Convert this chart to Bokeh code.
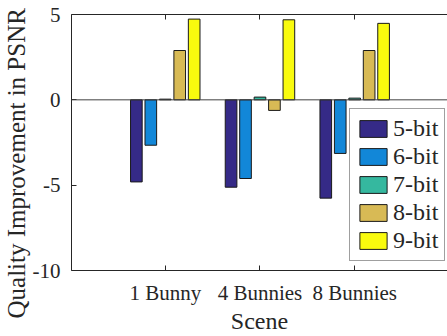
from bokeh.plotting import figure
from bokeh.models import Range1d, FixedTicker, LinearAxis, Span, ColumnDataSource, Legend, LegendItem, Title
from bokeh.embed import file_html
from bokeh.resources import INLINE

groups = [1, 2, 3]
scenes = ["1 Bunny", "4 Bunnies", "8 Bunnies"]
series = ["5-bit", "6-bit", "7-bit", "8-bit", "9-bit"]
v5 = [-4.81, -5.12, -5.76]
v6 = [-2.66, -4.61, -3.14]
v7 = [0.04, 0.16, 0.10]
v8 = [2.89, -0.62, 2.89]
v9 = [4.73, 4.69, 4.48]
values = [v5, v6, v7, v8, v9]
colors = ["#352A87", "#1287D8", "#35B89F", "#D8BA55", "#F9FB0E"]
y_ticks = [-10, -5, 0, 5]
y_tick_labels = ["-10", "-5", "0", "5"]
y_label = "Quality Improvement in PSNR"
x_label = "Scene"

FONT = "'Liberation Serif', serif"
AX = "#262626"

p = figure(width=447, height=336, output_backend="svg", toolbar_location=None,
           x_range=Range1d(0.01, 3.98), y_range=Range1d(-10, 5),
           min_border_left=70, min_border_right=0, min_border_top=14, min_border_bottom=64)
p.outline_line_color = None
p.xgrid.visible = False
p.ygrid.visible = False
p.background_fill_color = "white"
p.border_fill_color = "white"

# bottom axis
xa = p.xaxis[0]
xa.ticker = FixedTicker(ticks=groups)
xa.major_label_overrides = {g: s for g, s in zip(groups, scenes)}
xa.major_tick_in = 5
xa.major_tick_out = 0
xa.minor_tick_line_color = None
xa.axis_line_color = AX
xa.major_tick_line_color = AX
xa.major_label_text_font = FONT
xa.major_label_text_font_size = "21px"
xa.major_label_text_color = AX
xa.major_label_standoff = 10
xa.axis_label = x_label
xa.axis_label_text_font = FONT
xa.axis_label_text_font_size = "24px"
xa.axis_label_text_font_style = "normal"
xa.axis_label_text_color = AX
xa.axis_label_standoff = 0

# left axis
ya = p.yaxis[0]
ya.ticker = FixedTicker(ticks=y_ticks)
ya.major_label_overrides = {t: s for t, s in zip(y_ticks, y_tick_labels)}
ya.major_tick_in = 5
ya.major_tick_out = 0
ya.minor_tick_line_color = None
ya.axis_line_color = AX
ya.major_tick_line_color = AX
ya.major_label_text_font = FONT
ya.major_label_text_font_size = "21px"
ya.major_label_text_color = AX
ya.major_label_standoff = 11

# y label as a side title so it can be shifted along the axis
yt = Title(text=y_label, align="left", offset=-48, standoff=0,
           text_font=FONT, text_font_size="25px", text_font_style="normal",
           text_color=AX)
p.add_layout(yt, "left")

# top axis (box)
ta = LinearAxis(ticker=FixedTicker(ticks=groups))
ta.major_label_overrides = {g: "" for g in groups}
ta.major_label_standoff = 0
ta.major_tick_in = 5
ta.major_tick_out = 0
ta.minor_tick_line_color = None
ta.axis_line_color = AX
ta.major_tick_line_color = AX
p.add_layout(ta, "above")

# baseline
p.add_layout(Span(location=0, dimension="width", line_color="#404040", line_width=1))

step = 0.1526
bw = 0.123
items = []
for i, (name, vals, col) in enumerate(zip(series, values, colors)):
    off = (i - 2) * step
    src = ColumnDataSource(dict(x=[g + off for g in groups], top=vals))
    r = p.vbar(x="x", top="top", bottom=0, width=bw, source=src,
               fill_color=col, line_color="#1a1a1a", line_width=1)
    items.append(LegendItem(label=name, renderers=[r]))

leg = Legend(items=items, location=(278, 9))
leg.label_text_font = FONT
leg.label_text_font_size = "24px"
leg.label_text_color = AX
leg.glyph_width = 34
leg.glyph_height = 21
leg.label_standoff = 3
leg.spacing = 1
leg.padding = 6
leg.margin = 0
leg.border_line_color = "#404040"
leg.border_line_width = 1
leg.background_fill_color = "white"
leg.background_fill_alpha = 1
p.add_layout(leg, "center")

open("out.html", "w").write(file_html(p, INLINE))
